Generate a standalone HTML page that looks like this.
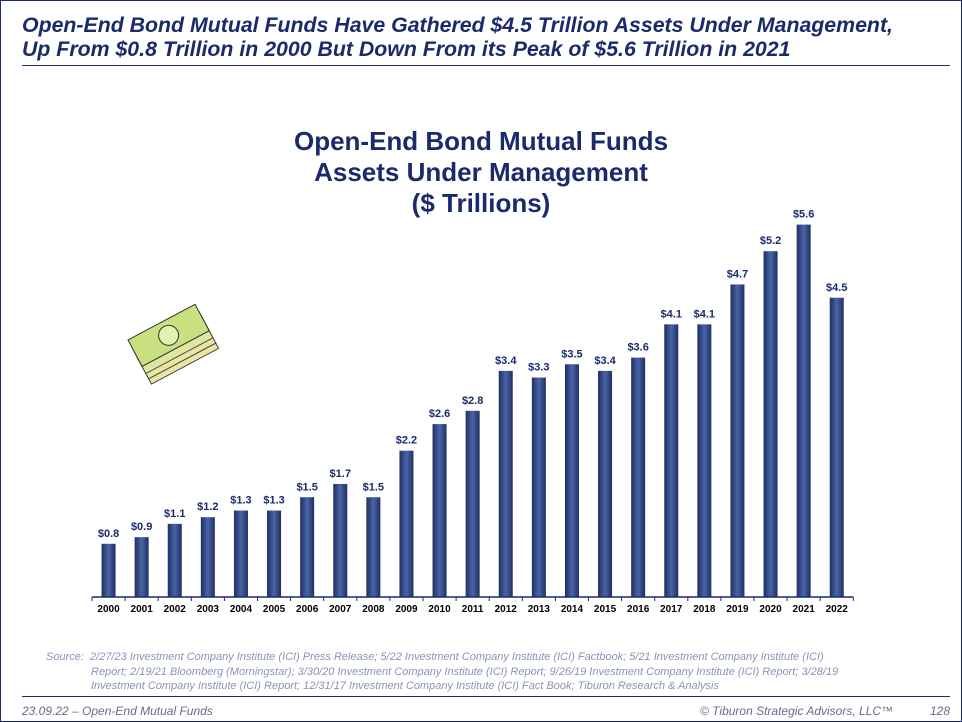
<!DOCTYPE html>
<html><head><meta charset="utf-8"><style>
body{margin:0;width:962px;height:722px;background:#fff;overflow:hidden;position:relative;font-family:"Liberation Sans",sans-serif}
.frame{position:absolute;left:0;top:0;width:960px;height:720px;border:1px solid #1a2a6c}
.hdr{position:absolute;left:22px;top:13px;font-size:21.3px;font-weight:bold;font-style:italic;color:#1a2a6c;line-height:24px;white-space:nowrap}
.rule{position:absolute;left:22px;width:928px;height:1px;background:#1a2a6c}
.ttl{position:absolute;left:0;width:962px;top:126px;text-align:center;font-size:26px;font-weight:bold;color:#1a2a6c;line-height:31px}
.src{position:absolute;left:46px;top:650px;font-size:11px;font-style:italic;color:#8a93b8;line-height:14.5px}
.ft{position:absolute;top:704px;font-size:12px;font-style:italic;color:#6a6a8a}
</style></head><body>
<div class="frame"></div>
<div class="hdr">Open-End Bond Mutual Funds Have Gathered $4.5 Trillion Assets Under Management,<br>Up From $0.8 Trillion in 2000 But Down From its Peak of $5.6 Trillion in 2021</div>
<div class="rule" style="top:65px"></div>
<div class="ttl">Open-End Bond Mutual Funds<br>Assets Under Management<br>($ Trillions)</div>
<svg width="962" height="722" style="position:absolute;left:0;top:0" id="chart">
<defs><linearGradient id="g" x1="0" x2="1" y1="0" y2="0"><stop offset="0" stop-color="#1f2f62"/><stop offset="0.5" stop-color="#4a64a6"/><stop offset="1" stop-color="#1f2f62"/></linearGradient></defs>
<g transform="translate(170,338) rotate(-28)">
<rect x="-38" y="2" width="76" height="30" fill="#e8e6a0" stroke="#444" stroke-width="1"/>
<rect x="-38" y="-4" width="76" height="30" fill="#e8e6a0" stroke="#444" stroke-width="1"/>
<rect x="-38" y="-10" width="76" height="30" fill="#dfe6a0" stroke="#444" stroke-width="1"/>
<rect x="-38" y="-18" width="76" height="30" fill="#c8e080" stroke="#333" stroke-width="1"/>
<ellipse cx="0" cy="-3" rx="10" ry="10" fill="#e6f0b0" stroke="#333"/>
</g>
</svg>
<div class="src">Source:&nbsp; 2/27/23 Investment Company Institute (ICI) Press Release; 5/22 Investment Company Institute (ICI) Factbook; 5/21 Investment Company Institute (ICI)<br><span style="padding-left:45px">Report; 2/19/21 Bloomberg (Morningstar); 3/30/20 Investment Company Institute (ICI) Report; 9/26/19 Investment Company Institute (ICI) Report; 3/28/19</span><br><span style="padding-left:45px">Investment Company Institute (ICI) Report; 12/31/17 Investment Company Institute (ICI) Fact Book; Tiburon Research &amp; Analysis</span></div>
<div class="rule" style="top:696px"></div>
<div class="ft" style="left:22px">23.09.22 – Open-End Mutual Funds</div>
<div class="ft" style="left:700px">© Tiburon Strategic Advisors, LLC™</div>
<div class="ft" style="left:930px">128</div>
<script>
const years=["2000","2001","2002","2003","2004","2005","2006","2007","2008","2009","2010","2011","2012","2013","2014","2015","2016","2017","2018","2019","2020","2021","2022"];
const values=[0.8,0.9,1.1,1.2,1.3,1.3,1.5,1.7,1.5,2.2,2.6,2.8,3.4,3.3,3.5,3.4,3.6,4.1,4.1,4.7,5.2,5.6,4.5];
const labels=values.map(v=>"$"+v.toFixed(1));
const svg=document.getElementById('chart');const NS="http://www.w3.org/2000/svg";
const x0=92,step=33.1,base=597,scale=66.5,bw=14;
const xc=i=>x0+step*(i+0.5);const y=v=>base-v*scale;
function mk(t,a){const e=document.createElementNS(NS,t);for(const k in a)e.setAttribute(k,a[k]);svg.appendChild(e);return e;}
years.forEach((yr,i)=>{
 const r=mk('rect',{x:xc(i)-bw/2,y:y(values[i]),width:bw,height:base-y(values[i]),fill:'url(#g)'});
 
 
 const l=mk('text',{x:xc(i),y:y(values[i])-7,'text-anchor':'middle','font-size':'11','font-weight':'bold',fill:'#1a2a6c','font-family':'Liberation Sans'});l.textContent=labels[i];
 
 
 const t=mk('text',{x:xc(i),y:base+15,'text-anchor':'middle','font-size':'10','font-weight':'bold',fill:'#000','font-family':'Liberation Sans'});t.textContent=yr;
 
 
});
const ax=mk('line',{x1:x0,x2:x0+step*years.length,y1:base,y2:base,stroke:'#1a2a6c','stroke-width':1.5});


for(let i=0;i<=years.length;i++){const tk=mk('line',{x1:x0+step*i,x2:x0+step*i,y1:base,y2:base+4,stroke:'#1a2a6c'});
 
 }
</script>
</body></html>
